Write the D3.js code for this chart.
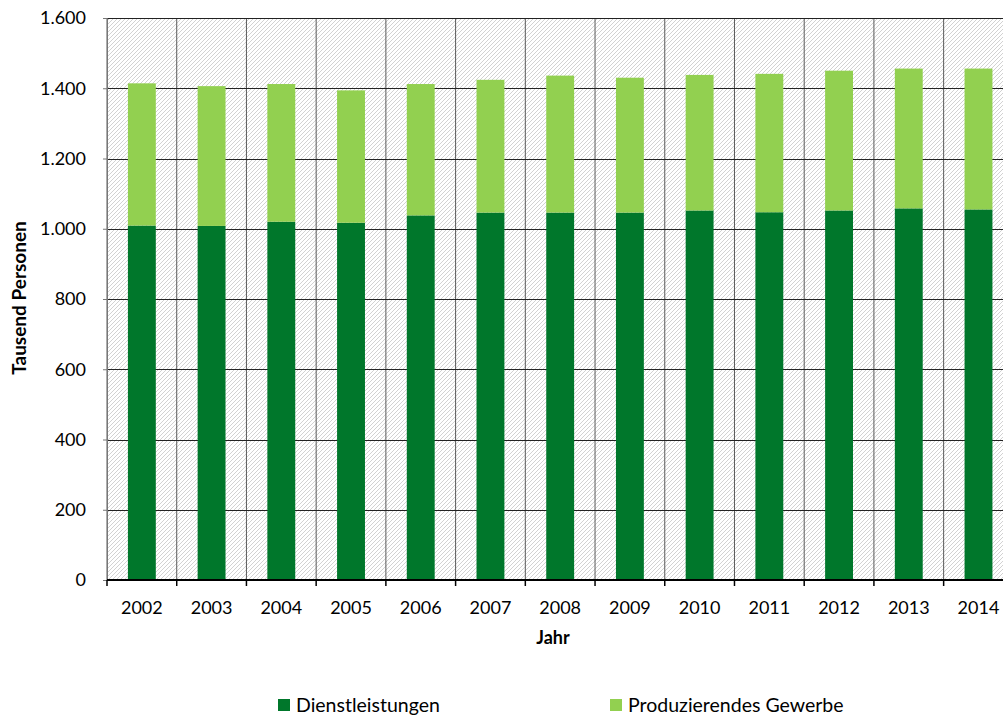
<!DOCTYPE html>
<html>
<head>
<meta charset="utf-8">
<script src="https://cdn.jsdelivr.net/npm/d3@7"></script>
<style>
  html, body { margin: 0; padding: 0; background: #fff; }
  svg { display: block; }
  text { font-family: Lato, "Open Sans", sans-serif; }
</style>
</head>
<body>
<svg id="chart" width="1003" height="720"></svg>
<script>
// Erwerbstätige nach Wirtschaftsbereichen (Tausend Personen)
const years = ["2002","2003","2004","2005","2006","2007","2008","2009","2010","2011","2012","2013","2014"];
const dienstleistungen = [1009, 1008, 1020, 1017, 1038, 1046, 1046, 1046, 1052, 1047, 1052, 1058, 1055];
const produzierendes   = [405, 398, 392, 377, 374, 378, 390, 384, 386, 394, 398, 398, 401];
const seriesNames = ["Dienstleistungen", "Produzierendes Gewerbe"];
const seriesColors = ["#00772B", "#92D050"];
const yTicks = [0, 200, 400, 600, 800, 1000, 1200, 1400, 1600];

const svg = d3.select("#chart");
const plotL = 107, plotT = 18, plotB = 580, plotR = 107 + 13 * 69.72;

const x = d3.scaleBand().domain(years).range([plotL, plotR]).paddingInner(0.6).paddingOuter(0.3);
const y = d3.scaleLinear().domain([0, 1600]).range([plotB, plotT]);
const step = x.step();

// diagonal hatch background
const defs = svg.append("defs");
const pat = defs.append("pattern")
  .attr("id", "hatch").attr("patternUnits", "userSpaceOnUse")
  .attr("width", 4).attr("height", 4);
pat.append("rect").attr("width", 4).attr("height", 4).attr("fill", "#fff");
pat.append("path").attr("d", "M-1,1 l2,-2 M0,4 l4,-4 M3,5 l2,-2")
  .attr("stroke", "#d2d2d2").attr("stroke-width", 1);

svg.append("rect")
  .attr("x", plotL).attr("y", plotT)
  .attr("width", plotR - plotL).attr("height", plotB - plotT)
  .attr("fill", "url(#hatch)");

// vertical category separators
const bounds = d3.range(years.length + 1).map(i => plotL + i * step);
svg.append("g").selectAll("line").data(bounds).join("line")
  .attr("x1", d => d).attr("x2", d => d)
  .attr("y1", plotT).attr("y2", plotB)
  .attr("stroke", "#5a5a5a").attr("stroke-width", 1);

// horizontal gridlines
svg.append("g").selectAll("line").data(yTicks.filter(d => d > 0)).join("line")
  .attr("x1", plotL).attr("x2", plotR)
  .attr("y1", d => Math.round(y(d)) + 0.5).attr("y2", d => Math.round(y(d)) + 0.5)
  .attr("stroke", "#222").attr("stroke-width", 1);

// stacked bars
const rows = years.map((yr, i) => ({ year: yr, Dienstleistungen: dienstleistungen[i], "Produzierendes Gewerbe": produzierendes[i] }));
const stack = d3.stack().keys(seriesNames)(rows);
svg.append("g").selectAll("g").data(stack).join("g")
  .attr("fill", (d, i) => seriesColors[i])
  .selectAll("rect").data(d => d).join("rect")
  .attr("x", d => x(d.data.year))
  .attr("width", x.bandwidth())
  .attr("y", d => y(d[1]))
  .attr("height", d => y(d[0]) - y(d[1]));

// y axis
const yAxis = svg.append("g").attr("transform", `translate(${plotL},0)`)
  .call(d3.axisLeft(y).tickValues(yTicks).tickSize(4).tickPadding(17)
    .tickFormat(d => d3.format(",")(d).replace(/,/g, ".")));
yAxis.select(".domain").attr("stroke", "#777");
yAxis.selectAll(".tick line").attr("stroke", "#777");
yAxis.selectAll("text").attr("font-size", 18).attr("fill", "#000").attr("font-family", "Lato");

// x axis
const xg = svg.append("g").attr("transform", `translate(0,${plotB})`);
xg.append("line").attr("x1", plotL).attr("x2", plotR).attr("stroke", "#000").attr("stroke-width", 2);
xg.selectAll("line.tk").data(bounds).join("line").attr("class", "tk")
  .attr("x1", d => d).attr("x2", d => d).attr("y1", 0).attr("y2", 6)
  .attr("stroke", "#000").attr("stroke-width", 1.5);
xg.selectAll("text").data(years).join("text")
  .attr("x", d => x(d) + x.bandwidth() / 2).attr("y", 34)
  .attr("text-anchor", "middle").attr("font-size", 18).attr("fill", "#000")
  .text(d => d);

// axis titles
svg.append("text").attr("x", 553).attr("y", 644)
  .attr("text-anchor", "middle").attr("font-size", 18).attr("font-weight", "bold")
  .text("Jahr");
svg.append("text").attr("transform", "translate(26,298) rotate(-90)")
  .attr("text-anchor", "middle").attr("font-size", 19).attr("font-weight", "bold")
  .text("Tausend Personen");

// legend
const legX = [278, 610];
const leg = svg.append("g").selectAll("g").data(seriesNames).join("g")
  .attr("transform", (d, i) => `translate(${legX[i]},699)`);
leg.append("rect").attr("width", 12).attr("height", 12).attr("fill", (d, i) => seriesColors[i]);
leg.append("text").attr("x", 18).attr("y", 13).attr("font-size", 19.5).attr("fill", "#000").text(d => d);
</script>
</body>
</html>
